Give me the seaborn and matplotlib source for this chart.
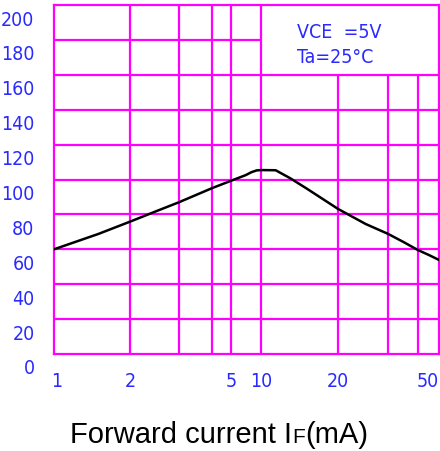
import numpy as np
import matplotlib
matplotlib.use("Agg")
import matplotlib.pyplot as plt
import matplotlib.transforms as mtransforms
from matplotlib import font_manager
import seaborn as sns

# ─── Data ────────────────────────────────────────────────────────────────────
forward_current = [1, 1.5, 2, 2.5, 3, 4, 5, 7, 8, 9, 10, 11.4, 13, 15,
                   20, 25, 30, 35, 40, 45, 50]
hfe = [60.0, 68.8, 75.8, 82.0, 87.0, 95.0, 99.3, 102.5, 104.2, 105.2, 105.4,
       105.3, 100.7, 95.0, 83.1, 74.5, 68.8, 64.0, 59.6, 56.7, 53.9]

x_ticks = [1, 2, 5, 10, 20, 50]
x_tick_labels = ["1", "2", "5", "10", "20", "50"]
y_ticks = [0, 20, 40, 60, 80, 100, 120, 140, 160, 180, 200]

# vertical grid lines; the ones under the condition box stop at 160
grid_x_full = [2, 3, 4, 5, 10]
grid_x_short = [20, 30, 40]
grid_y_full = [20, 40, 60, 80, 100, 120, 140, 160]
grid_y_short = [180]

# the printed grid is a hand-drawn log grid: 5..10 is squeezed
GRID_STOPS = np.array([1, 2, 3, 4, 5, 10, 20, 30, 40, 50], dtype=float)
GRID_FRAC = np.array([0, .197, .325, .410, .460, .538, .738, .868, .945, 1.0])

MAGENTA = "#ff00ff"
BLUE = "#2a2aff"


def fwd(x):
    x = np.clip(np.asarray(x, dtype=float), 1e-6, None)
    return np.interp(np.log10(x), np.log10(GRID_STOPS), GRID_FRAC)


def inv(y):
    return 10 ** np.interp(np.asarray(y, dtype=float), GRID_FRAC, np.log10(GRID_STOPS))


# pick a narrow sans face if one is installed (datasheet uses Arial Narrow)
def find_narrow():
    fonts = font_manager.fontManager.ttflist
    prefs = ["Liberation Sans Narrow", "Noto Sans", "DejaVu Sans", "Open Sans",
             "Roboto", "Lato"]
    for stretch in ("condensed", "semi-condensed"):
        for fam in prefs:
            for f in fonts:
                if (f.name == fam and str(f.stretch) == stretch
                        and f.style == "normal" and f.weight in (400, "normal")):
                    return f.fname
    for f in fonts:
        if "narrow" in f.name.lower() and f.style == "normal":
            return f.fname
    return None


NARROW_FILE = find_narrow()


def narrow(size):
    if NARROW_FILE:
        return font_manager.FontProperties(fname=NARROW_FILE, size=size)
    return font_manager.FontProperties(family="DejaVu Sans", stretch="condensed",
                                       size=size)


sns.set_style("white")

fig = plt.figure(figsize=(4.4, 4.51), dpi=100)
ax = fig.add_axes([54 / 440, 97 / 451, 385 / 440, 349 / 451])
ax.set_xscale("function", functions=(fwd, inv))
ax.set_xlim(1, 50)
ax.set_ylim(0, 200)

# ─── Grid ────────────────────────────────────────────────────────────────────
ax.vlines(grid_x_full, 0, 200, color=MAGENTA, lw=1.6, zorder=1)
ax.vlines(grid_x_short, 0, 160, color=MAGENTA, lw=1.6, zorder=1)
ax.hlines(grid_y_full, 1, 50, color=MAGENTA, lw=1.6, zorder=1)
ax.hlines(grid_y_short, 1, 10, color=MAGENTA, lw=1.6, zorder=1)
for sp in ax.spines.values():
    sp.set_color(MAGENTA)
    sp.set_linewidth(1.6)

# ─── Curve ───────────────────────────────────────────────────────────────────
sns.lineplot(x=forward_current, y=hfe, ax=ax, color="black", lw=1.8, zorder=3)

# ─── Ticks ───────────────────────────────────────────────────────────────────
ax.set_xticks(x_ticks)
ax.set_xticklabels(x_tick_labels)
ax.set_yticks(y_ticks)
ax.set_yticklabels([str(v) for v in y_ticks])
ax.minorticks_off()
ax.tick_params(axis="both", length=0, labelcolor=BLUE)
ax.tick_params(axis="x", pad=13)
ax.tick_params(axis="y", pad=14)
ax.set_xlabel("")
ax.set_ylabel("")

shift_down = mtransforms.ScaledTranslation(0, -0.13, fig.dpi_scale_trans)
shift_right = mtransforms.ScaledTranslation(0.03, 0, fig.dpi_scale_trans)
for lab in ax.get_yticklabels():
    lab.set_fontproperties(narrow(14))
    lab.set_transform(lab.get_transform() + shift_down)
for lab in ax.get_xticklabels():
    lab.set_fontproperties(narrow(14))
ax.get_xticklabels()[0].set_transform(ax.get_xticklabels()[0].get_transform() + shift_right)
ax.get_xticklabels()[-1].set_horizontalalignment("right")

# ─── Condition box text ──────────────────────────────────────────────────────
ax.text(0.631, 0.92, "VCE  =5V", transform=ax.transAxes, color=BLUE,
        fontproperties=narrow(14), va="center", ha="left")
ax.text(0.631, 0.851, "Ta=25°C", transform=ax.transAxes, color=BLUE,
        fontproperties=narrow(14), va="center", ha="left")

# ─── X label with small-cap F ────────────────────────────────────────────────
label_font = ["Liberation Sans", "DejaVu Sans"]
t1 = fig.text(70 / 440, 2 / 451, "Forward current I", fontsize=21,
              family=label_font, color="black", ha="left", va="bottom")
t2 = ax.annotate("F", xy=(1, 0), xycoords=t1, xytext=(0.5, 1.3),
                 textcoords="offset points", fontsize=15, family=label_font,
                 color="black", ha="left", va="bottom", annotation_clip=False)
ax.annotate("(mA)", xy=(1, 0), xycoords=t2, xytext=(0, -1.3),
            textcoords="offset points", fontsize=21, family=label_font,
            color="black", ha="left", va="bottom", annotation_clip=False)

fig.savefig("out.png", dpi=100)
